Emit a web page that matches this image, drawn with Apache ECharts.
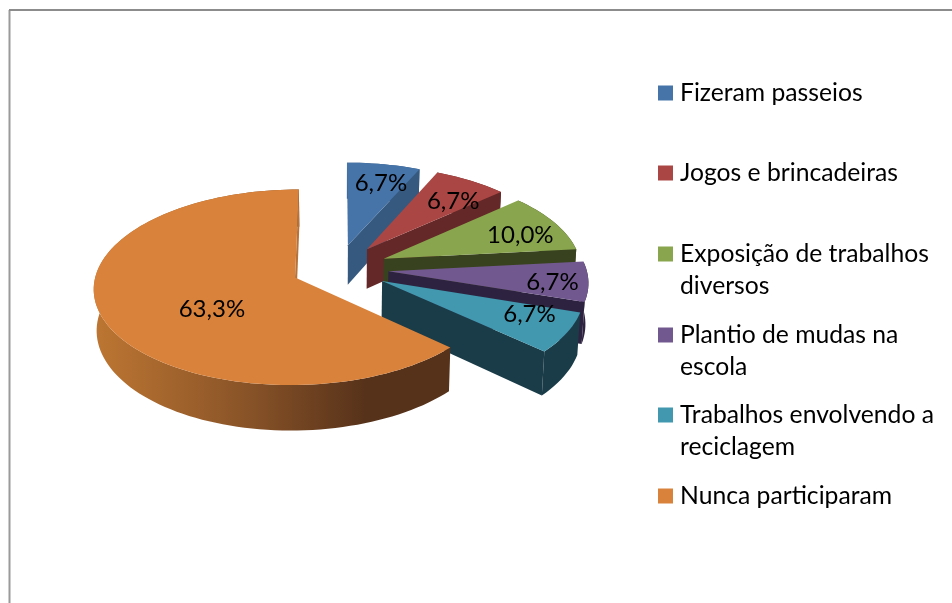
<!DOCTYPE html>
<html><head><meta charset="utf-8">
<style>html,body{margin:0;padding:0;background:#fff}#c{width:952px;height:603px}</style>
<script src="https://cdn.jsdelivr.net/npm/echarts@6/dist/echarts.min.js"></script>
</head><body><div id="c"></div>
<script>
const categories = ['Fizeram passeios','Jogos e brincadeiras','Exposição de trabalhos diversos','Plantio de mudas na escola','Trabalhos envolvendo a reciclagem','Nunca participaram'];
const legendLines = [['Fizeram passeios'],['Jogos e brincadeiras'],['Exposição de trabalhos','diversos'],['Plantio de mudas na','escola'],['Trabalhos envolvendo a','reciclagem'],['Nunca participaram']];
const values = [6.7,6.7,10.0,6.7,6.7,63.3];
const labels = ['6,7%','6,7%','10,0%','6,7%','6,7%','63,3%'];
const topColors = ['#4674a8','#aa4643','#89a54e','#71588f','#4198af','#d9823b'];
const wallColors = ['#35597f','#632827','#39421f','#2d2340','#1a3c49','#b5723a'];
const explode = [51,51,51,51,51,46];
const labelShift = [2.3,4.7,4.4,1.5,-5.3,-15.3];
const labelFrac = [.754,.728,.764,.822,.776,.51];
const legendCenters = [92,172,253,334,414,495];

const CX=337.5, CY=268.5, R=198, K=.48, D=2000, H=40.5, FONT='Lato', FS=24, LEGEND_FS=24.7;
const total = values.reduce((a,b)=>a+b,0);
const rad = d=>d*Math.PI/180;
function project(X,Y,depth){
  const p = 1/(1-Y/D), s = depth?0.988:1;
  const x = CX+X*p*s, y = CY+K*Y*p + (depth?H*p:0);
  return [x,y];
}
function sliceGeom(i){
  let a0=0; for(let j=0;j<i;j++) a0+=values[j]/total*360;
  const a1=a0+values[i]/total*360, mid=(a0+a1)/2;
  const ax=Math.sin(rad(mid))*explode[i], ay=-Math.cos(rad(mid))*explode[i];
  const pt=a=>[ax+Math.sin(rad(a))*R, ay-Math.cos(rad(a))*R];
  return {a0,a1,mid,ax,ay,pt};
}
function renderSlice(params,api){
  const i=params.seriesIndex, g=sliceGeom(i);
  const arc=[], steps=Math.max(8,Math.round((g.a1-g.a0)/2));
  for(let s=0;s<=steps;s++) arc.push(g.pt(g.a0+(g.a1-g.a0)*s/steps));
  const topArc=arc.map(q=>project(q[0],q[1],false));
  const botArc=arc.map(q=>project(q[0],q[1],true));
  const apexT=project(g.ax,g.ay,false), apexB=project(g.ax,g.ay,true);
  const endQ=arc[arc.length-1];
  const wallFill = i===5
    ? {type:'linear',x:95,y:0,x2:365,y2:0,global:true,colorStops:[{offset:0,color:'#bd7632'},{offset:.55,color:'#8a5428'},{offset:1,color:'#57321a'}]}
    : wallColors[i];
  const children=[
    {type:'polygon',shape:{points:topArc.concat(botArc.slice().reverse())},style:{fill:wallFill}},
    {type:'polygon',shape:{points:[apexT,project(endQ[0],endQ[1],false),project(endQ[0],endQ[1],true),apexB]},style:{fill:wallColors[i]}},
    {type:'polygon',shape:{points:[apexT].concat(topArc)},style:{fill:topColors[i]}}
  ];
  const la=g.mid+labelShift[i], lr=labelFrac[i]*R;
  const lp=project(g.ax+Math.sin(rad(la))*lr, g.ay-Math.cos(rad(la))*lr, false);
  children.push({type:'text',z2:10,x:lp[0],y:lp[1],style:{text:labels[i],fill:'#000',font:FS+'px '+FONT,align:'center',verticalAlign:'middle'}});
  return {type:'group',children};
}
const chart=echarts.init(document.getElementById('c'),null,{renderer:'canvas'});
chart.setOption({
  animation:false,
  backgroundColor:'#fff',
  graphic:[
    {type:'line',shape:{x1:9.5,y1:10,x2:9.5,y2:603},style:{stroke:'#9a9a9a',lineWidth:2}},
    {type:'line',shape:{x1:9,y1:10,x2:952,y2:10},style:{stroke:'#8c8c8c',lineWidth:2}}
  ],
  legend:categories.map((name,i)=>{
    const two=legendLines[i].length>1;
    return {
      data:[{name,icon:'rect'}],orient:'vertical',selectedMode:false,padding:0,
      left:658,top:legendCenters[i]-(two?47:15),itemWidth:15,itemHeight:15,
      formatter:()=>two?'\n'+legendLines[i].join('\n'):legendLines[i][0],
      textStyle:{fontFamily:FONT,fontSize:LEGEND_FS,color:'#000',lineHeight:32,padding:[0,0,0,2]}
    };
  }),
  series:categories.map((name,i)=>({
    type:'custom',name,coordinateSystem:'none',silent:true,
    itemStyle:{color:topColors[i]},
    data:[values[i]],renderItem:renderSlice
  }))
});
</script></body></html>
